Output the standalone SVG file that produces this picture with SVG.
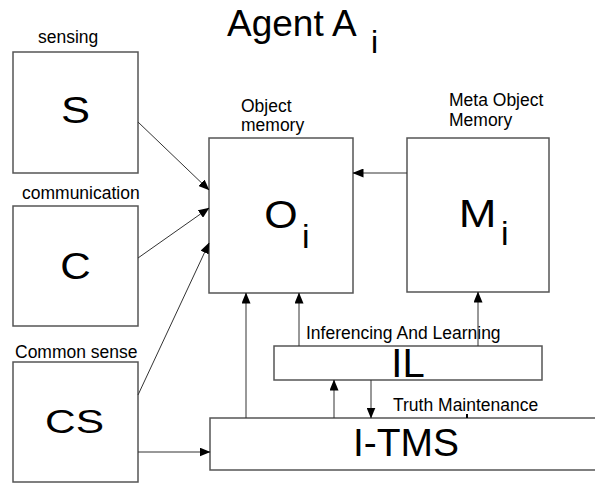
<svg xmlns="http://www.w3.org/2000/svg" width="595" height="483" viewBox="0 0 595 483">
<defs>
<marker id="ah" markerUnits="userSpaceOnUse" markerWidth="11" markerHeight="9" refX="10.5" refY="4.5" orient="auto">
<path d="M0,0 L11,4.5 L0,9 z" fill="#000"/>
</marker>
<style>
.box{fill:#fff;stroke:#555;stroke-width:1.5}
.lbl{font-family:"Liberation Sans",Arial,sans-serif;font-size:17.5px;fill:#000}
.big{font-family:"Liberation Sans",Arial,sans-serif;fill:#000;text-anchor:middle}
.sub{font-family:"Liberation Sans",Arial,sans-serif;fill:#000}
.con{stroke:#333;stroke-width:1;fill:none;marker-end:url(#ah)}
</style>
</defs>
<rect width="595" height="483" fill="#fff"/>
<g id="title">
<text class="sub" x="227" y="36" font-size="37">Agent A</text>
<text class="sub" x="371" y="53" font-size="32">i</text>
</g>
<g id="S">
<text class="lbl" x="38" y="43">sensing</text>
<rect class="box" x="13" y="52" width="125" height="121"/>
<text class="big" x="75.5" y="123" font-size="36" textLength="29" lengthAdjust="spacingAndGlyphs">S</text>
</g>
<g id="C">
<text class="lbl" x="22" y="199">communication</text>
<rect class="box" x="13" y="206" width="125" height="120"/>
<text class="big" x="75.5" y="279" font-size="37" textLength="30.5" lengthAdjust="spacingAndGlyphs">C</text>
</g>
<g id="CS">
<text class="lbl" x="15" y="358">Common sense</text>
<rect class="box" x="13" y="362" width="125" height="120"/>
<text class="big" x="74.5" y="433" font-size="34" textLength="59" lengthAdjust="spacingAndGlyphs">CS</text>
</g>
<g id="O">
<text class="lbl" x="241" y="112">Object</text>
<text class="lbl" x="241" y="131">memory</text>
<rect class="box" x="209" y="138" width="144" height="155"/>
<text class="big" x="281" y="228" font-size="38" textLength="33.4" lengthAdjust="spacingAndGlyphs">O</text>
<text class="sub" x="302" y="248" font-size="34">i</text>
</g>
<g id="M">
<text class="lbl" x="449" y="106">Meta Object</text>
<text class="lbl" x="449" y="126">Memory</text>
<rect class="box" x="407" y="138" width="142" height="154"/>
<text class="big" x="477.5" y="227" font-size="38" textLength="37.7" lengthAdjust="spacingAndGlyphs">M</text>
<text class="sub" x="501" y="245" font-size="34">i</text>
</g>
<g id="IL">
<text class="lbl" x="306" y="339">Inferencing And Learning</text>
<rect class="box" x="274" y="346" width="268" height="34"/>
<text class="big" x="408" y="377" font-size="40">IL</text>
</g>
<g id="ITMS">
<text class="lbl" x="393" y="411">Truth Maintenance</text>
<rect class="box" x="210" y="418" width="400" height="52"/>
<text class="big" x="406" y="456" font-size="39">I-TMS</text>
</g>
<g id="connectors">
<line class="con" x1="138" y1="122" x2="209" y2="190"/>
<line class="con" x1="138" y1="258" x2="209" y2="208"/>
<line class="con" x1="138" y1="395" x2="209" y2="243"/>
<line class="con" x1="407" y1="173" x2="353" y2="173"/>
<line class="con" x1="138" y1="452" x2="210" y2="452"/>
<line class="con" x1="246" y1="418" x2="246" y2="293"/>
<line class="con" x1="299" y1="346" x2="299" y2="293"/>
<line class="con" x1="478" y1="346" x2="478" y2="292"/>
<line class="con" x1="334" y1="418" x2="334" y2="380"/>
<line class="con" x1="371" y1="380" x2="371" y2="418"/>
<line x1="467" y1="414" x2="467" y2="418" stroke="#000" stroke-width="2"/>
</g>
</svg>
